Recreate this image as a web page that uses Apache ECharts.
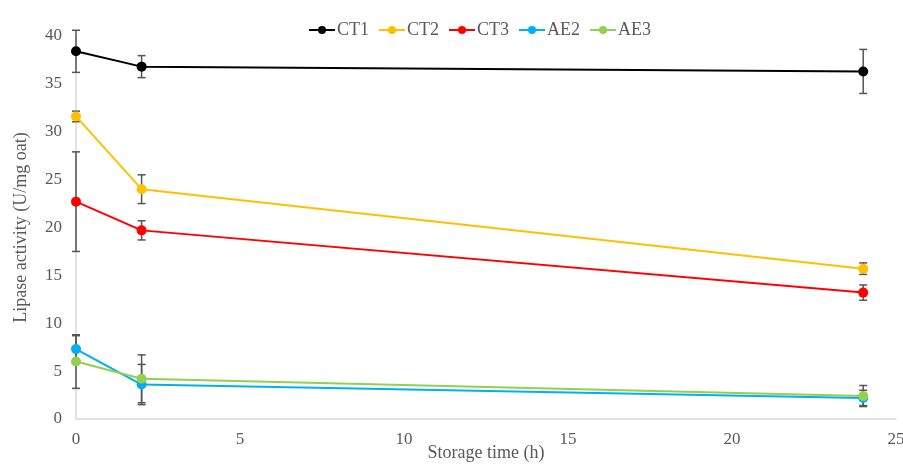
<!DOCTYPE html>
<html>
<head>
<meta charset="utf-8">
<script src="https://cdn.jsdelivr.net/npm/echarts@6/dist/echarts.min.js"></script>
<style>
  html, body { margin: 0; padding: 0; background: #fff; }
  #chart { width: 903px; height: 464px; }
</style>
</head>
<body>
<div id="chart"></div>
<script>
// storage times (h)
var hours = [0, 2, 24];

// lipase activity, U/mg oat
var ct1 = [38.4, 36.8, 36.3];
var ct2 = [31.6, 24.0, 15.7];
var ct3 = [22.7, 19.7, 13.2];
var ae2 = [7.3, 3.6, 2.2];
var ae3 = [6.0, 4.2, 2.4];

// +/- error values
var ct1Err = [2.2, 1.15, 2.3];
var ct2Err = [0.55, 1.5, 0.6];
var ct3Err = [5.2, 1.0, 0.8];
var ae2Err = [1.4, 2.1, 0.8];
var ae3Err = [2.8, 2.5, 1.1];

var yTicks = [0, 40, 5];
var xTicks = [0, 25, 5];

var font = 'Liberation Serif';
var txtColor = '#595959';

function pts(vals) {
  return hours.map(function (h, i) { return [h, vals[i]]; });
}
function errs(vals, e) {
  return hours.map(function (h, i) { return [h, vals[i] - e[i], vals[i] + e[i]]; });
}

function renderErr(params, api) {
  var x = api.value(0);
  var lo = api.coord([x, api.value(1)]);
  var hi = api.coord([x, api.value(2)]);
  var w = 4;
  var st = { stroke: '#555', lineWidth: 1.5 };
  return {
    type: 'group',
    children: [
      { type: 'line', shape: { x1: lo[0], y1: lo[1], x2: hi[0], y2: hi[1] }, style: st },
      { type: 'line', shape: { x1: hi[0] - w, y1: hi[1], x2: hi[0] + w, y2: hi[1] }, style: st },
      { type: 'line', shape: { x1: lo[0] - w, y1: lo[1], x2: lo[0] + w, y2: lo[1] }, style: st }
    ]
  };
}

var groups = [
  { name: 'CT1', vals: ct1, err: ct1Err, color: '#000000' },
  { name: 'CT2', vals: ct2, err: ct2Err, color: '#FFC000' },
  { name: 'CT3', vals: ct3, err: ct3Err, color: '#FF0000' },
  { name: 'AE2', vals: ae2, err: ae2Err, color: '#00B0F0' },
  { name: 'AE3', vals: ae3, err: ae3Err, color: '#92D050' }
];

var series = [];
groups.forEach(function (g) {
  series.push({
    type: 'custom',
    renderItem: renderErr,
    data: errs(g.vals, g.err),
    z: 1,
    silent: true
  });
});
groups.forEach(function (g) {
  series.push({
    name: g.name,
    type: 'line',
    data: pts(g.vals),
    color: g.color,
    symbol: 'circle',
    symbolSize: 10,
    lineStyle: { width: 2 },
    z: 3
  });
});

var chart = echarts.init(document.getElementById('chart'));
chart.setOption({
  animation: false,
  textStyle: { fontFamily: font },
  legend: {
    top: 16,
    left: 303,
    itemWidth: 26,
    itemHeight: 10,
    itemGap: 9,
    data: groups.map(function (g) { return g.name; }),
    textStyle: { fontFamily: font, fontSize: 18, color: txtColor, padding: [0, 0, 0, -3] }
  },
  grid: {
    left: 76,
    right: 7,
    top: 36,
    bottom: 45,
    containLabel: false,
    outerBoundsMode: 'none'
  },
  xAxis: {
    type: 'value',
    min: xTicks[0],
    max: xTicks[1],
    interval: xTicks[2],
    name: 'Storage time (h)',
    nameLocation: 'middle',
    nameGap: 25,
    nameMoveOverlap: false,
    nameTextStyle: { fontFamily: font, fontSize: 18, color: txtColor },
    axisLine: { lineStyle: { color: '#d9d9d9', width: 1.5 } },
    axisTick: { show: false },
    splitLine: { show: false },
    axisLabel: { fontFamily: font, fontSize: 17, color: txtColor, margin: 12 }
  },
  yAxis: {
    type: 'value',
    min: yTicks[0],
    max: yTicks[1],
    interval: yTicks[2],
    name: 'Lipase activity (U/mg oat)',
    nameLocation: 'middle',
    nameGap: 46,
    nameMoveOverlap: false,
    nameTextStyle: { fontFamily: font, fontSize: 18, color: txtColor },
    axisLine: { show: true, lineStyle: { color: '#d9d9d9', width: 1.5 } },
    axisTick: { show: false },
    splitLine: { show: false },
    axisLabel: { fontFamily: font, fontSize: 17, color: txtColor, margin: 14 }
  },
  series: series
});
</script>
</body>
</html>
